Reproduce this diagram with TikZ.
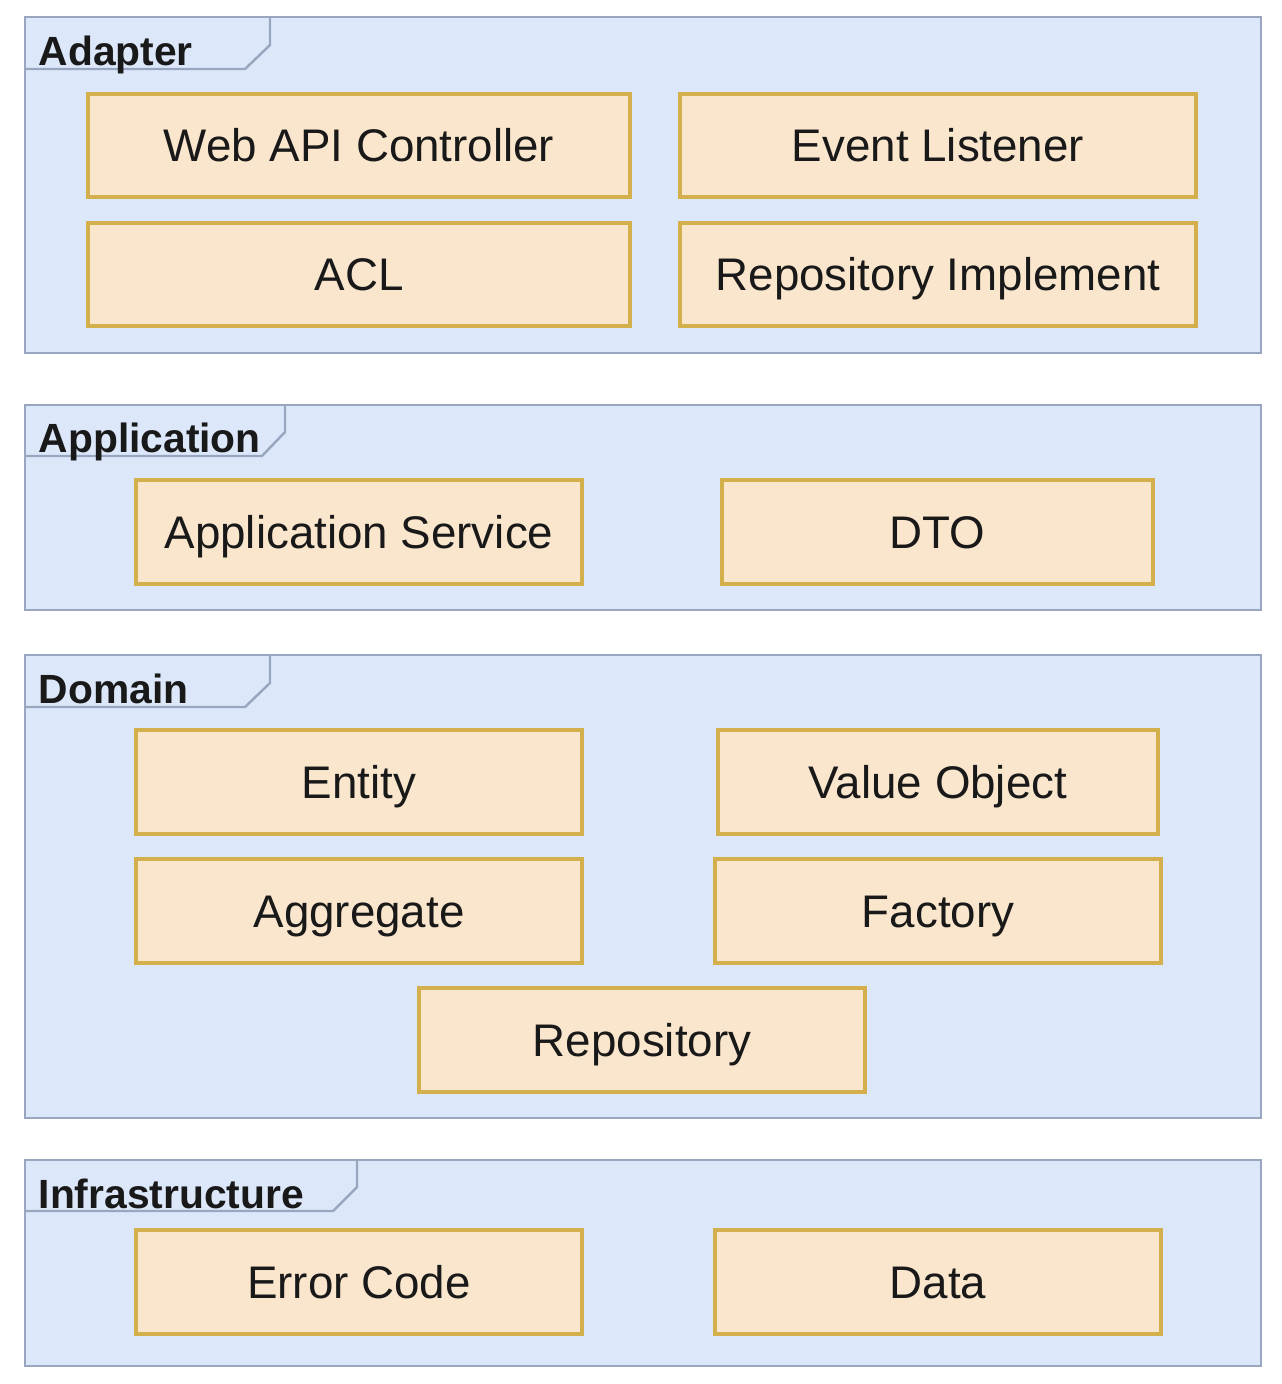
\documentclass[tikz,border=0pt]{standalone}
\usepackage{fontspec}
\setmainfont{Liberation Sans}
\definecolor{layerfill}{HTML}{DCE8FA}
\definecolor{layerline}{HTML}{98A6C0}
\definecolor{blockfill}{HTML}{FAE6CD}
\definecolor{blockline}{HTML}{D4B04C}
\tikzset{
	layer/.style={draw=layerline, fill=layerfill, line width=0.7pt},
	tabline/.style={draw=layerline, line width=0.7pt},
	layertitle/.style={anchor=base west, inner sep=0pt, font=\fontsize{11.6}{13}\selectfont\bfseries, text=black!90},
	block/.style={draw=blockline, fill=blockfill, line width=1.2pt, inner sep=0pt, text height=9.3pt, text depth=0pt, font=\fontsize{13}{15}\selectfont, text=black!90},
}
\begin{document}
\begin{tikzpicture}[x=0.01cm, y=-0.01cm]
		\useasboundingbox (0,0) rectangle (1282,1384);

		\draw[layer] (25,17) rectangle (1261,353);
		\draw[tabline] (25,69) -- (245,69) -- (270,45) -- (270,17);
		\node[layertitle] (adapter) at (38,65) {Adapter};

		\draw[layer] (25,405) rectangle (1261,610);
		\draw[tabline] (25,456) -- (262,456) -- (285,432) -- (285,405);
		\node[layertitle] (application) at (38,452) {Application};

		\draw[layer] (25,655) rectangle (1261,1118);
		\draw[tabline] (25,707) -- (245,707) -- (270,683) -- (270,655);
		\node[layertitle] (domain) at (38,703) {Domain};

		\draw[layer] (25,1160) rectangle (1261,1366);
		\draw[tabline] (25,1211) -- (333,1211) -- (357,1187) -- (357,1160);
		\node[layertitle] (infra) at (38,1208) {Infrastructure};

		\node[block, minimum width=5.42cm, minimum height=1.03cm] (webapi) at (359,145.5) {Web API Controller};
		\node[block, minimum width=5.16cm, minimum height=1.03cm] (listener) at (938,145.5) {Event Listener};
		\node[block, minimum width=5.42cm, minimum height=1.03cm] (acl) at (359,274.5) {ACL};
		\node[block, minimum width=5.16cm, minimum height=1.03cm] (repoimpl) at (938,274.5) {Repository Implement};

		\node[block, minimum width=4.46cm, minimum height=1.04cm] (appsvc) at (359,532) {Application Service};
		\node[block, minimum width=4.31cm, minimum height=1.04cm] (dto) at (937.5,532) {DTO};

		\node[block, minimum width=4.46cm, minimum height=1.04cm] (entity) at (359,782) {Entity};
		\node[block, minimum width=4.40cm, minimum height=1.04cm] (valobj) at (938,782) {Value Object};
		\node[block, minimum width=4.46cm, minimum height=1.04cm] (aggregate) at (359,911) {Aggregate};
		\node[block, minimum width=4.46cm, minimum height=1.04cm] (factory) at (938,911) {Factory};
		\node[block, minimum width=4.46cm, minimum height=1.04cm] (repo) at (642,1040) {Repository};

		\node[block, minimum width=4.46cm, minimum height=1.04cm] (errcode) at (359,1282) {Error Code};
		\node[block, minimum width=4.46cm, minimum height=1.04cm] (data) at (938,1282) {Data};
	\end{tikzpicture}
\end{document}
